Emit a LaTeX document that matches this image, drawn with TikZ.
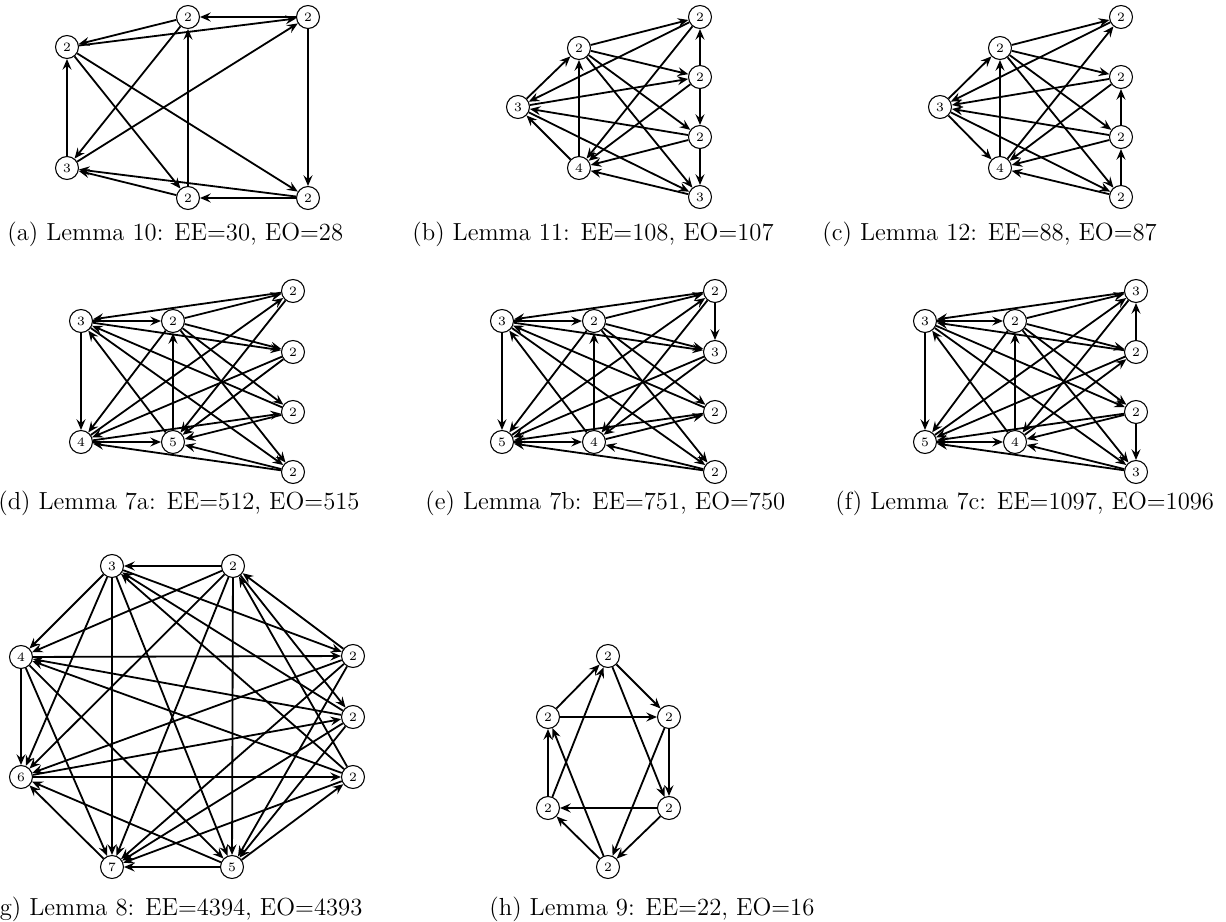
\documentclass[tikz,border=0pt]{standalone}
\usepackage{fontspec}
\usetikzlibrary{arrows.meta}
\begin{document}
\begin{tikzpicture}[x=0.47pt,y=-0.47pt,
  vtx/.style={circle,draw,line width=0.5pt,minimum size=10.8pt,inner sep=0pt,font=\fontsize{6}{7}\selectfont},
  arc/.style={line width=0.85pt,-{Stealth[length=5pt,width=4.2pt,inset=1.8pt]}},
  captxt/.style={inner sep=0pt,font=\fontsize{11.6}{14}\selectfont}]
\useasboundingbox (0,0) rectangle (1226,922);

% (a) Lemma 10
\node[vtx] (a1) at (188,17) {2};
\node[vtx] (a2) at (308,17) {2};
\node[vtx] (a3) at (67,47) {2};
\node[vtx] (a4) at (67,168) {3};
\node[vtx] (a5) at (188,198) {2};
\node[vtx] (a6) at (308,198) {2};
\foreach \s/\t in {a2/a1,a1/a3,a3/a2,a4/a2,a1/a4,a4/a3,a5/a1,a3/a5,a3/a6,a2/a6,a5/a4,a6/a4,a6/a5}
  \draw[arc] (\s) -- (\t);
\node[captxt,anchor=base west] (capa) at (7,241) {(a) Lemma 10: EE=30, EO=28};

% (b) Lemma 11
\node[vtx] (b1) at (700,17) {2};
\node[vtx] (b2) at (579,48) {2};
\node[vtx] (b3) at (700,77) {2};
\node[vtx] (b4) at (518,107) {3};
\node[vtx] (b5) at (700,137) {2};
\node[vtx] (b6) at (579,168) {4};
\node[vtx] (b7) at (700,197) {3};
\foreach \s/\t in {b2/b1,b1/b4,b1/b6,b3/b1,b2/b3,b4/b3,b3/b6,b3/b5,b4/b2,b6/b2,b2/b5,b2/b7,b5/b4,b5/b6,b6/b4,b4/b7,b7/b6,b5/b7}
  \draw[arc] (\s) -- (\t);
\node[captxt,anchor=base west] (capb) at (412,241) {(b) Lemma 11: EE=108, EO=107};

% (c) Lemma 12
\node[vtx] (c1) at (1121,17) {2};
\node[vtx] (c2) at (1000,48) {2};
\node[vtx] (c3) at (1121,77) {2};
\node[vtx] (c4) at (940,107) {3};
\node[vtx] (c5) at (1121,137) {2};
\node[vtx] (c6) at (1000,168) {4};
\node[vtx] (c7) at (1121,197) {2};
\foreach \s/\t in {c2/c1,c1/c4,c6/c1,c2/c3,c3/c4,c3/c6,c5/c3,c4/c2,c6/c2,c4/c6,c2/c5,c2/c7,c5/c4,c5/c6,c4/c7,c7/c6,c7/c5}
  \draw[arc] (\s) -- (\t);
\node[captxt,anchor=base west] (capc) at (822,241) {(c) Lemma 12: EE=88, EO=87};

% (d) Lemma 7a
\node[vtx] (d1) at (293,291) {2};
\node[vtx] (d2) at (81,321) {3};
\node[vtx] (d3) at (173,321) {2};
\node[vtx] (d4) at (293,352) {2};
\node[vtx] (d5) at (293,412) {2};
\node[vtx] (d6) at (81,442) {4};
\node[vtx] (d7) at (173,442) {5};
\node[vtx] (d8) at (293,472) {2};
\foreach \s/\t in {d1/d2,d3/d1,d2/d3,d2/d4,d3/d4,d5/d2,d7/d2,d2/d8,d3/d5,d3/d8,d3/d6,d7/d3,d6/d1,d1/d7,d4/d6,d4/d7,d6/d5,d5/d7,d8/d6,d8/d7,d2/d6,d6/d7}
  \draw[arc] (\s) -- (\t);
\node[captxt,anchor=base east] (capd) at (360,509) {(d) Lemma 7a: EE=512, EO=515};

% (e) Lemma 7b
\node[vtx] (e1) at (715,291) {2};
\node[vtx] (e2) at (502,321) {3};
\node[vtx] (e3) at (594,321) {2};
\node[vtx] (e4) at (715,352) {3};
\node[vtx] (e5) at (715,412) {2};
\node[vtx] (e6) at (502,442) {5};
\node[vtx] (e7) at (594,442) {4};
\node[vtx] (e8) at (715,472) {2};
\foreach \s/\t in {e2/e3,e1/e2,e3/e1,e1/e4,e2/e4,e3/e4,e3/e6,e7/e3,e3/e5,e3/e8,e2/e8,e5/e2,e7/e2,e2/e6,e6/e1,e1/e7,e4/e6,e4/e7,e5/e6,e7/e5,e6/e7,e8/e6,e8/e7}
  \draw[arc] (\s) -- (\t);
\node[captxt,anchor=base west] (cape) at (425,509) {(e) Lemma 7b: EE=751, EO=750};

% (f) Lemma 7c
\node[vtx] (f1) at (1136,291) {3};
\node[vtx] (f2) at (925,321) {3};
\node[vtx] (f3) at (1015,321) {2};
\node[vtx] (f4) at (1136,352) {2};
\node[vtx] (f5) at (1136,412) {2};
\node[vtx] (f6) at (925,442) {5};
\node[vtx] (f7) at (1015,442) {4};
\node[vtx] (f8) at (1136,472) {3};
\foreach \s/\t in {f1/f2,f2/f3,f3/f1,f4/f1,f4/f2,f3/f4,f3/f6,f7/f3,f3/f5,f3/f8,f2/f5,f2/f8,f7/f2,f2/f6,f6/f1,f1/f7,f4/f6,f7/f4,f5/f6,f5/f7,f5/f8,f6/f7,f8/f6,f8/f7}
  \draw[arc] (\s) -- (\t);
\node[captxt,anchor=base west] (capf) at (835,509) {(f) Lemma 7c: EE=1097, EO=1096};

% (g) Lemma 8
\node[vtx] (g1) at (112,566) {3};
\node[vtx] (g2) at (233,566) {2};
\node[vtx] (g3) at (353,656) {2};
\node[vtx] (g4) at (353,717) {2};
\node[vtx] (g5) at (353,777) {2};
\node[vtx] (g6) at (232,867) {5};
\node[vtx] (g7) at (112,867) {7};
\node[vtx] (g8) at (21,777) {6};
\node[vtx] (g9) at (21,657) {4};
\foreach \s/\t in {g2/g1,g4/g1,g5/g1,g1/g3,g1/g6,g1/g7,g1/g8,g1/g9,
                   g3/g2,g5/g2,g2/g4,g2/g6,g2/g7,g2/g8,g2/g9,
                   g3/g6,g3/g7,g3/g8,g9/g3,
                   g4/g9,g4/g7,g4/g6,g8/g4,
                   g5/g9,g5/g7,g6/g5,g8/g5,
                   g6/g7,g6/g8,g7/g8,
                   g9/g6,g9/g7,g9/g8}
  \draw[arc] (\s) -- (\t);
\node[captxt,anchor=base west] (capg) at (-10,915) {(g) Lemma 8: EE=4394, EO=4393};

% (h) Lemma 9
\node[vtx] (h1) at (608,656) {2};
\node[vtx] (h2) at (548,717) {2};
\node[vtx] (h3) at (669,717) {2};
\node[vtx] (h4) at (548,808) {2};
\node[vtx] (h5) at (669,808) {2};
\node[vtx] (h6) at (608,867) {2};
\foreach \s/\t in {h2/h1,h4/h1,h1/h3,h1/h5,h2/h3,h3/h5,h3/h6,h5/h4,h5/h6,h6/h4,h6/h2,h4/h2}
  \draw[arc] (\s) -- (\t);
\node[captxt,anchor=base west] (caph) at (489,915) {(h) Lemma 9: EE=22, EO=16};
\end{tikzpicture}
\end{document}
